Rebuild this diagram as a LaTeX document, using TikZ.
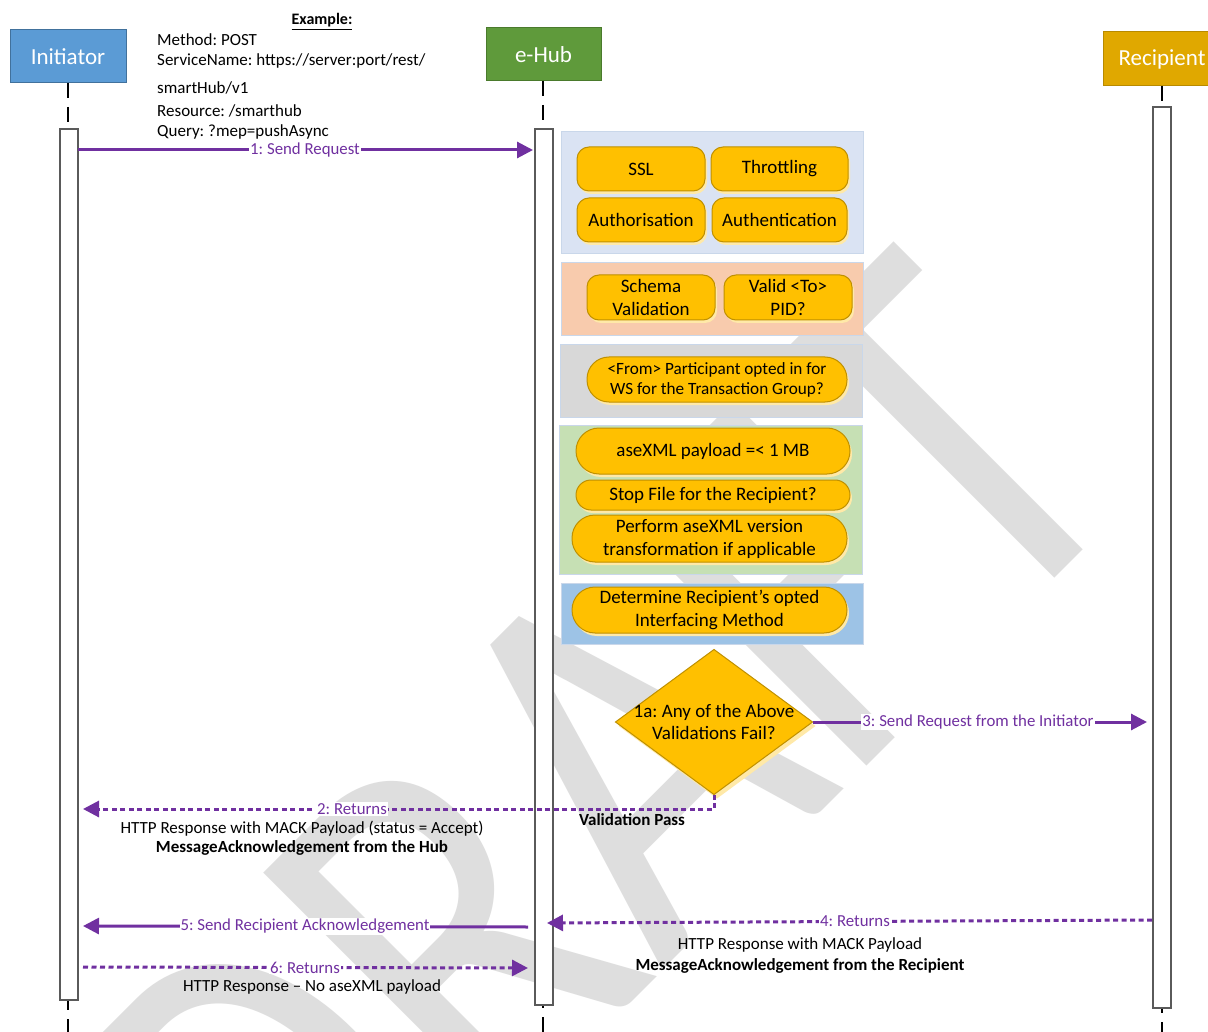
\documentclass[tikz,border=0pt]{standalone}
\usepackage{fontspec}
\setmainfont{Carlito}
\frenchspacing
\usetikzlibrary{shapes.geometric,arrows.meta,shadows}
\definecolor{purp}{HTML}{7030A0}
\definecolor{gold}{HTML}{FFC000}
\definecolor{goldline}{HTML}{BF9000}
\definecolor{goldshadow}{HTML}{FFE9A8}
\definecolor{initblue}{HTML}{5B9BD5}
\definecolor{initline}{HTML}{41719C}
\definecolor{hubgreen}{HTML}{5F9A3B}
\definecolor{hubline}{HTML}{4A7A2C}
\definecolor{recgold}{HTML}{E0A800}
\definecolor{recline}{HTML}{B88A00}
\definecolor{gA}{HTML}{DAE3F3}
\definecolor{gB}{HTML}{F8CBAD}
\definecolor{gC}{HTML}{D8D8D8}
\definecolor{gD}{HTML}{C6E0B4}
\definecolor{gE}{HTML}{9DC3E6}
\definecolor{gline}{HTML}{C9D7EA}
\definecolor{wm}{HTML}{DEDEDE}
\definecolor{barline}{HTML}{5A5A5A}
\begin{document}
\begin{tikzpicture}[x=1pt,y=-1pt,
  hdr/.style={draw, line width=1pt, text=white, inner sep=0pt, outer sep=0pt,
    font=\fontsize{23}{26}\selectfont},
  life/.style={line width=2.4pt, dash pattern=on 15pt off 9pt},
  bar/.style={draw=barline, fill=white, line width=1.2pt, minimum width=18pt, inner sep=0pt, outer sep=0pt},
  grp/.style={draw=gline, line width=1pt, inner sep=0pt, outer sep=0pt},
  chk/.style={draw=goldline, fill=gold, line width=1pt, inner sep=0pt, outer sep=0pt,
    align=center, font=\fontsize{19}{23}\selectfont,
    drop shadow={shadow xshift=2pt, shadow yshift=-3pt, fill=goldshadow, opacity=1}},
  msg/.style={draw=purp, line width=3pt, -{Triangle[length=16pt,width=16pt]}},
  ret/.style={draw=purp, line width=3pt, dash pattern=on 5pt off 3.5pt, -{Triangle[length=16pt,width=16pt]}},
  lbl/.style={fill=white, text=purp, inner sep=1pt, font=\fontsize{16.8}{18}\selectfont},
  info/.style={inner sep=0pt, font=\fontsize{17}{20}\selectfont},
  infob/.style={inner sep=0pt, font=\fontsize{17}{20}\selectfont\bfseries}
]
\useasboundingbox (0,0) rectangle (1208,1032);
\fill[white] (0,0) rectangle (1208,1032);

% watermark
\begin{scope}
\clip (0,0) rectangle (1208,1032);
\node[rotate=45, text=wm, inner sep=0pt, font=\fontsize{548}{548}\selectfont] (wmark) at (596,789) {\scalebox{0.82}[1]{DRAFT}};
\end{scope}

% headers
\node[hdr, fill=initblue, draw=initline, minimum width=116pt, minimum height=53pt] (init) at (68,56.5) {Initiator};
\node[hdr, fill=hubgreen, draw=hubline, minimum width=115pt, minimum height=53pt] (hub) at (543.5,54.5) {e-Hub};
\node[hdr, fill=recgold, draw=recline, minimum width=118pt, minimum height=54pt] (rec) at (1162,59) {Recipient};

% lifelines
\coordinate (ibot) at (68,1032);
\coordinate (hbot) at (543,1032);
\coordinate (rbot) at (1162,1032);
\draw[life] (init.south -| ibot) -- (ibot);
\draw[life] (hub.south -| hbot) -- (hbot);
\draw[life] (rec.south -| rbot) -- (rbot);

% activation bars
\node[bar, minimum height=871pt] (ibar) at (69,564.5) {};
\node[bar, minimum height=876pt] (hbar) at (544,567) {};
\node[bar, minimum height=901pt] (rbar) at (1162,557.5) {};

% example text
\node[inner sep=0pt, anchor=base, font=\fontsize{16}{18}\selectfont\bfseries] (ex) at (322,25) {\underline{Example:}};
\node[info, anchor=base west] (ex1) at (157,45.5) {Method: POST};
\node[info, anchor=base west] (ex2) at (157,65.5) {ServiceName: https://server:port/rest/};
\node[info, anchor=base west] (ex3) at (157,93.5) {smartHub/v1};
\node[info, anchor=base west] (ex4) at (157,116.5) {Resource: /smarthub};
\node[info, anchor=base west] (ex5) at (157,136.5) {Query: ?mep=pushAsync};

% validation groups
\node[grp, fill=gA, minimum width=302pt, minimum height=122pt] (g1) at (712,193) {};
\node[grp, fill=gB, minimum width=302pt, minimum height=73pt] (g2) at (712,299.5) {};
\node[grp, fill=gC, minimum width=302pt, minimum height=72pt] (g3) at (711,381) {};
\node[grp, fill=gD, minimum width=303pt, minimum height=149pt] (g4) at (710.5,499.5) {};
\node[grp, fill=gE, minimum width=302pt, minimum height=61pt] (g5) at (712,613.5) {};

\node[chk, rounded corners=12pt, minimum width=128pt, minimum height=44pt] (ssl) at (641,169) {SSL};
\node[chk, rounded corners=12pt, minimum width=137pt, minimum height=44pt] (thr) at (779.5,169) {Throttling};
\node[chk, rounded corners=12pt, minimum width=128pt, minimum height=44pt] (ath) at (641,220) {Authorisation};
\node[chk, rounded corners=12pt, minimum width=135pt, minimum height=44pt] (atn) at (779.5,220) {Authentication};
\node[chk, rounded corners=12pt, minimum width=128pt, minimum height=45pt] (sch) at (651,297.5) {Schema\\Validation};
\node[chk, rounded corners=12pt, minimum width=128pt, minimum height=45pt] (pid) at (788,297.5) {Valid <To>\\PID?};
\node[chk, rounded corners=22pt, minimum width=260pt, minimum height=45pt, font=\fontsize{17.2}{20}\selectfont] (from) at (717,379.5) {<From> Participant opted in for\\WS for the Transaction Group?};
\node[chk, rounded corners=23pt, minimum width=274pt, minimum height=46pt] (ase) at (713,451) {aseXML payload =< 1 MB};
\node[chk, rounded corners=15pt, minimum width=274pt, minimum height=30pt] (stop) at (713,495) {Stop File for the Recipient?};
\node[chk, rounded corners=23pt, minimum width=275pt, minimum height=47pt] (perf) at (709.5,538.5) {Perform aseXML version\\transformation if applicable};
\node[chk, rounded corners=23pt, minimum width=275pt, minimum height=46pt] (det) at (709.5,610) {Determine Recipient’s opted\\Interfacing Method};

% decision diamond
\node[diamond, draw=goldline, fill=gold, line width=1pt, minimum width=197pt, minimum height=145pt, inner sep=0pt, outer sep=0pt,
  drop shadow={shadow xshift=3pt, shadow yshift=-4pt, fill=goldshadow, opacity=1}] (dia) at (714,722) {};
\node[align=center, inner sep=0pt, font=\fontsize{19}{22}\selectfont] (diat) at (714,722) {1a: Any of the Above\\Validations Fail?};

% messages
\coordinate (a1s) at (78,150);
\coordinate (a1e) at (533,150);
\draw[msg] (a1s) -- (a1e);
\node[lbl] (l1) at (305,150) {1: Send Request};

\coordinate (a3e) at (1147,722);
\draw[msg] (dia.east) -- (a3e);
\node[lbl] (l3) at (978,722) {3: Send Request from the Initiator};

\coordinate (a2e) at (83,809);
\draw[ret] (dia.south) |- (a2e);
\node[lbl] (l2) at (352,809) {2: Returns};
\node[infob] (vp) at (632,820) {Validation Pass};
\node[info] (t2a) at (302,829) {HTTP Response with MACK Payload (status = Accept)};
\node[infob] (t2b) at (302,848) {MessageAcknowledgement from the Hub};

\coordinate (a4s) at (1152,920);
\coordinate (a4e) at (547,923);
\draw[ret] (a4s) -- (a4e);
\node[lbl] (l4) at (855,921.5) {4: Returns};
\node[info] (t4a) at (800,945) {HTTP Response with MACK Payload};
\node[infob] (t4b) at (800,966) {MessageAcknowledgement from the Recipient};

\coordinate (a5s) at (528,927);
\coordinate (a5e) at (83,926);
\draw[msg] (a5s) -- (a5e);
\node[lbl] (l5) at (305,926.5) {5: Send Recipient Acknowledgement};

\coordinate (a6s) at (83,967);
\coordinate (a6e) at (528,968);
\draw[ret] (a6s) -- (a6e);
\node[lbl] (l6) at (305,967.5) {6: Returns};
\node[info] (t6) at (312,987) {HTTP Response – No aseXML payload};
\end{tikzpicture}
\end{document}
